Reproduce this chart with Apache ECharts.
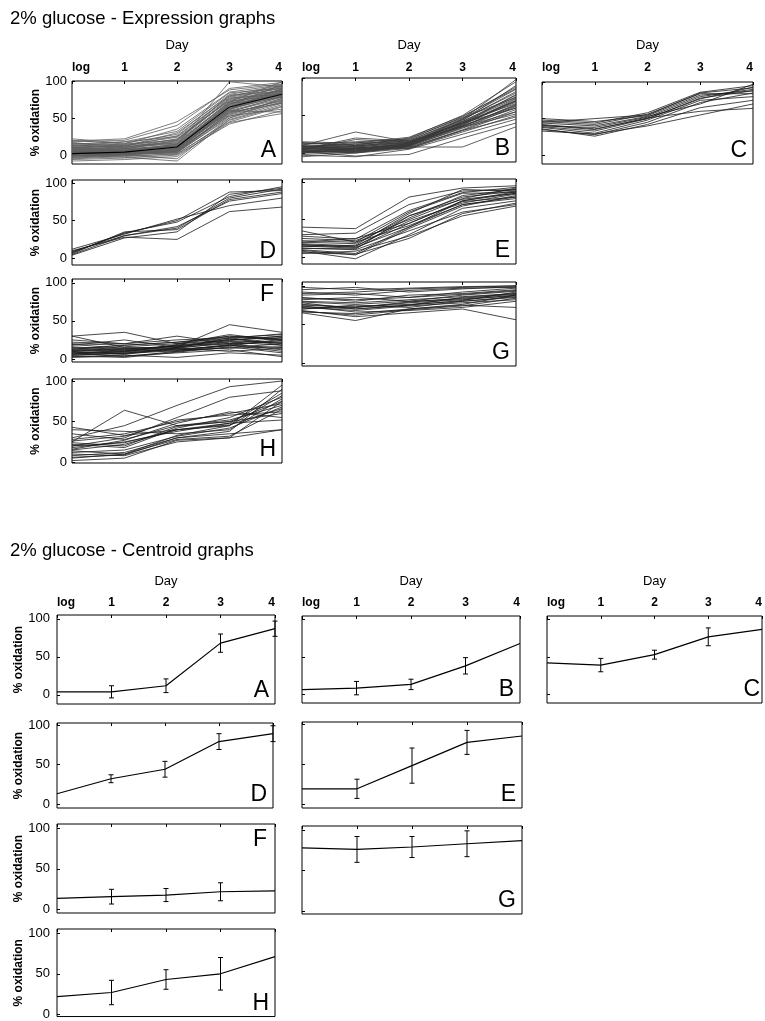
<!DOCTYPE html>
<html><head><meta charset="utf-8">
<script src="https://cdn.jsdelivr.net/npm/echarts@6/dist/echarts.min.js"></script>
<style>html,body{margin:0;padding:0;background:#fff}#c{width:765px;height:1021px}</style>
</head><body><div id="c"></div>
<script>
// ---------- DATA ----------
const days = ['log', '1', '2', '3', '4'];
const yTickValues = [0, 50, 100];
const titleExpr = '2% glucose - Expression graphs';
const titleCent = '2% glucose - Centroid graphs';
const dayName = 'Day';
const yName = '% oxidation';

// Expression profiles (each row: log, day1, day2, day3, day4)
const exprA = [
 [2,3,8,62,80],[5,6,12,70,85],[0,1,5,55,75],[10,8,20,75,88],[-3,0,4,50,70],
 [15,12,30,80,92],[8,5,15,68,84],[3,2,6,60,78],[20,15,35,85,95],[-5,-2,2,45,65],
 [6,10,18,72,86],[1,4,9,58,79],[12,18,25,78,90],[4,2,7,64,82],[-2,1,3,52,72],
 [9,7,14,66,83],[18,20,40,90,98],[0,-3,-8,48,68],[7,9,11,63,81],[14,10,22,74,87],
 [2,5,10,69,88],[-6,-4,0,42,60],[11,13,16,71,89],[5,3,8,59,76],[22,16,28,82,94],
 [3,6,13,67,84],[-1,0,6,56,74],[8,11,19,76,91],[16,14,24,73,80],[1,2,4,54,71],
 [6,4,9,61,85],[10,12,26,79,93],[-4,-1,1,47,66],[13,9,17,70,78],[4,7,12,65,87],
 [0,2,5,57,73],[19,22,45,88,96],[7,5,10,62,90],[2,0,-5,50,77],[9,13,21,77,82],
 [5,8,14,99,92],[15,18,32,84,90],[-3,1,7,53,62],[3,4,9,60,58],[11,6,12,68,95],
 [-8,-6,-2,44,56],[17,11,15,72,99],[6,1,3,58,70],[12,15,20,81,86],[-1,3,6,63,79]
];
const exprAMean = [2,4,11,65,82];
const exprB = [
 [5,6,12,40,70],[2,3,10,35,65],[8,10,14,45,80],[0,2,8,30,55],[12,15,18,48,88],
 [4,5,11,38,68],[-3,-5,5,25,45],[6,8,13,42,75],[10,28,15,36,60],[3,0,9,33,62],
 [7,12,16,46,85],[1,4,10,37,72],[14,10,20,50,95],[5,7,6,28,50],[9,6,12,41,66],
 [-2,1,7,31,58],[4,18,14,39,78],[11,9,17,44,82],[2,-4,-2,20,40],[6,3,11,36,64],
 [8,14,13,43,90],[0,5,9,34,52],[13,11,19,47,74],[3,2,10,38,70],[5,20,16,40,60],
 [7,4,8,8,35],[1,6,12,45,98],[10,8,14,35,55],[4,1,10,42,77],[15,13,21,49,86],
 [-5,0,6,30,48],[6,9,15,39,69],[2,7,11,36,63],[9,5,13,41,73]
];
const exprC = [
 [40,38,52,80,90],[45,50,55,85,92],[35,28,45,72,85],[42,36,50,78,88],[48,44,58,86,95],
 [38,30,48,75,80],[44,40,53,70,97],[36,26,42,65,75],[50,46,54,82,88],[41,35,51,60,64],
 [39,33,50,77,93],[46,42,56,84,84],[33,29,40,55,70]
];
const exprD = [
 [5,30,40,80,92],[8,33,50,88,90],[10,28,25,62,68],[6,35,38,78,88],
 [12,32,52,70,80],[4,27,35,85,93],[9,30,42,76,86],[7,34,48,82,95]
];
const exprE = [
 [15,12,45,75,85],[40,38,80,92,95],[30,32,70,88,90],[10,5,40,70,80],[20,18,55,80,88],
 [25,22,50,78,92],[8,-2,30,65,75],[18,15,48,72,84],[12,10,35,60,70],[22,20,60,85,86],
 [5,8,28,55,68],[16,14,52,82,90],[35,20,42,70,78],[14,16,58,90,88],[9,3,38,68,82],
 [20,25,45,74,80],[12,11,55,77,85],[28,24,62,86,93],[6,4,25,58,72],[17,13,40,75,87]
];
const exprF = [
 [10,12,15,20,22],[30,35,20,25,30],[5,8,12,18,15],[15,10,18,25,28],[8,3,10,15,20],
 [20,18,22,30,25],[12,14,16,45,35],[3,5,2,8,5],[18,25,15,28,32],[10,6,14,22,18],
 [25,20,30,20,12],[7,9,13,17,26],[14,16,20,32,24],[2,4,8,12,3],[11,13,17,24,30],
 [16,12,10,18,10],[9,7,15,26,20],[30,15,12,14,16],[6,10,18,20,28],[13,18,22,27,33],
 [4,2,9,16,8],[19,14,16,23,22],[8,11,14,10,14],[12,9,19,30,26],[22,20,25,28,18],
 [5,7,11,19,24]
];
const exprG = [
 [75,72,78,82,88],[95,98,92,96,99],[65,55,70,75,72],[85,80,88,90,95],[70,75,72,80,85],
 [90,92,96,98,100],[78,70,75,85,90],[68,60,65,70,56],[82,85,80,88,93],[72,68,74,78,82],
 [88,90,85,92,97],[66,64,70,76,88],[80,78,82,86,90],[74,66,68,72,80],[92,88,94,97,98],
 [70,73,76,80,86],[98,95,97,99,100],[76,72,79,84,89],[84,82,85,89,94],[67,62,69,74,84],
 [79,76,80,83,87],[73,70,75,81,92]
];
const exprH = [
 [30,45,70,93,100],[43,33,40,48,52],[25,64,45,50,60],[10,8,25,30,75],[20,30,55,80,88],
 [5,10,28,32,65],[15,22,40,45,95],[28,35,50,60,72],[8,12,30,35,40],[22,18,42,55,80],
 [2,5,27,30,40],[35,28,45,52,70],[18,25,38,48,85],[12,15,32,42,68],[26,32,52,58,62],
 [6,9,30,38,90],[24,20,44,50,75],[16,27,48,62,55],[40,38,35,40,78],[14,10,33,45,82],
 [20,24,40,46,66]
];

// Centroids and error (+/-)
const centA = [4,4,12,68,87];  const errA = [0,8,9,12,10];
const centB = [6,8,13,38,68];  const errB = [0,9,7,11,0];
const centC = [42,39,53,77,87]; const errC = [0,9,6,12,0];
const centD = [13,32,44,79,89]; const errD = [0,5,10,10,10];
const centE = [19,19,48,77,85]; const errE = [0,12,22,15,0];
const centF = [14,16,18,22,23]; const errF = [0,9,8,11,0];
const centG = [78,76,79,83,87]; const errG = [0,16,13,16,0];
const centH = [22,27,43,50,71]; const errH = [0,15,12,20,0];

// ---------- LAYOUT ----------
const FONT = "'Liberation Sans', Arial, Helvetica, sans-serif";
const exprPanels = [
 {id:'A', lines:exprA, mean:exprAMean, color:'#5e5e5e', l:72, t:81, w:210, h:83, min:-12, max:100, xl:true, yl:true, dayGap:29.5, xm:7, lt:'b'},
 {id:'B', lines:exprB, color:'#383838', l:302, t:78, w:214, h:84, min:-12, max:100, xl:true, yl:false, dayGap:26.5, xm:4, lt:'b'},
 {id:'C', lines:exprC, color:'#1a1a1a', l:542, t:82, w:211, h:82, min:-12, max:100, xl:true, yl:false, dayGap:30.5, xm:8, lt:'b'},
 {id:'D', lines:exprD, color:'#1a1a1a', l:72, t:180, w:210, h:85, min:-9, max:104, xl:false, yl:true, lt:'b'},
 {id:'E', lines:exprE, color:'#1a1a1a', l:302, t:179, w:214, h:85, min:-9, max:104, xl:false, yl:false, lt:'b'},
 {id:'F', lines:exprF, color:'#1a1a1a', l:72, t:279, w:210, h:83, min:-4, max:105, xl:false, yl:true, lt:'t'},
 {id:'G', lines:exprG, color:'#1a1a1a', l:302, t:282, w:214, h:84, min:-4, max:105, xl:false, yl:false, lt:'b'},
 {id:'H', lines:exprH, color:'#1a1a1a', l:72, t:379, w:210, h:84, min:-1, max:102.5, xl:false, yl:true, lt:'b'}
];
const centPanels = [
 {id:'A', c:centA, e:errA, l:57, t:615, w:218, h:89, min:-12, max:105, xl:true, yl:true, dayGap:27, xm:6, lt:'b'},
 {id:'B', c:centB, e:errB, l:302, t:616, w:218, h:87, min:-12, max:105, xl:true, yl:false, dayGap:28, xm:7, lt:'b'},
 {id:'C', c:centC, e:errC, l:547, t:616, w:219, h:87, min:-12, max:105, xl:true, yl:false, dayGap:28, xm:7, lt:'b'},
 {id:'D', c:centD, e:errD, l:57, t:723, w:216, h:85, min:-5, max:102.5, xl:false, yl:true, lt:'b'},
 {id:'E', c:centE, e:errE, l:302, t:722, w:220, h:86, min:-5, max:102.5, xl:false, yl:false, lt:'b'},
 {id:'F', c:centF, e:errF, l:57, t:824, w:218, h:89, min:-4, max:105, xl:false, yl:true, lt:'t'},
 {id:'G', c:centG, e:errG, l:302, t:826, w:220, h:88, min:-4, max:105, xl:false, yl:false, lt:'b'},
 {id:'H', c:centH, e:errH, l:57, t:929, w:218, h:88, min:-2.5, max:105, xl:false, yl:true, lt:'b'}
];

const grids = [], xAxes = [], yAxes = [], series = [], graphics = [];

function addAxes(p, yMargin, yNameGap) {
  const i = grids.length;
  grids.push({left:p.l, top:p.t, width:p.w, height:p.h, show:true, borderColor:'#000', borderWidth:1, backgroundColor:'transparent'});
  xAxes.push({
    gridIndex:i, type:'category', data:days, boundaryGap:false, position:'top',
    axisLine:{show:false, onZero:false},
    axisTick:{show:true, inside:true, length:3, lineStyle:{color:'#000', width:1}},
    axisLabel:{show:p.xl, margin:p.xm || 6, fontSize:12, fontWeight:'bold', color:'#000', fontFamily:FONT,
               alignMinLabel:'left', alignMaxLabel:'right', interval:0},
    splitLine:{show:false},
    name: p.xl ? dayName : '', nameLocation:'middle', nameGap: p.dayGap || 0,
    nameTextStyle:{fontSize:13, color:'#000', fontFamily:FONT}
  });
  yAxes.push({
    gridIndex:i, type:'value', min:p.min, max:p.max,
    axisLine:{show:false, onZero:false},
    axisTick:{show:true, inside:true, length:3, customValues:yTickValues, lineStyle:{color:'#000'}},
    axisLabel:{show:p.yl, customValues:yTickValues, margin:yMargin, fontSize:13, color:'#000', fontFamily:FONT},
    splitLine:{show:false},
    name: p.yl ? yName : '', nameLocation:'middle', nameRotate:90, nameGap:yNameGap,
    nameTextStyle:{fontSize:12, fontWeight:'bold', color:'#000', fontFamily:FONT}
  });
  // panel letter
  const fs = 23;
  if (p.lt === 't') {
    graphics.push({type:'text', x:p.l + p.w - 8, y:p.t + 4, silent:true,
      style:{text:p.id, fill:'#000', font: fs + 'px ' + FONT, textAlign:'right', textVerticalAlign:'top'}});
  } else {
    graphics.push({type:'text', x:p.l + p.w - 6, y:p.t + p.h - 2, silent:true,
      style:{text:p.id, fill:'#000', font: fs + 'px ' + FONT, textAlign:'right', textVerticalAlign:'bottom'}});
  }
  return i;
}

exprPanels.forEach(p => {
  const i = addAxes(p, 5, 29);
  p.lines.forEach(row => {
    series.push({type:'line', xAxisIndex:i, yAxisIndex:i, data:row, symbol:'none', silent:true,
      lineStyle:{color:p.color, width:0.8}, animation:false});
  });
  if (p.mean) {
    series.push({type:'line', xAxisIndex:i, yAxisIndex:i, data:p.mean, symbol:'none', silent:true,
      lineStyle:{color:'#000', width:1.1}, animation:false, z:5});
  }
});

function errRender(params, api) {
  const x = api.value(0);
  const lo = api.coord([x, api.value(1)]);
  const hi = api.coord([x, api.value(2)]);
  const cap = 2.5;
  const st = {stroke:'#000', lineWidth:1};
  return {type:'group', children:[
    {type:'line', shape:{x1:lo[0], y1:lo[1], x2:hi[0], y2:hi[1]}, style:st},
    {type:'line', shape:{x1:lo[0]-cap, y1:lo[1], x2:lo[0]+cap, y2:lo[1]}, style:st},
    {type:'line', shape:{x1:hi[0]-cap, y1:hi[1], x2:hi[0]+cap, y2:hi[1]}, style:st}
  ]};
}

centPanels.forEach(p => {
  const i = addAxes(p, 7, 32);
  series.push({type:'line', xAxisIndex:i, yAxisIndex:i, data:p.c, symbol:'none', silent:true,
    lineStyle:{color:'#000', width:1.2}, animation:false});
  const eb = days.map((d, k) => [k, p.c[k] - p.e[k], p.c[k] + p.e[k], p.e[k]]).filter(r => r[3] > 0);
  series.push({type:'custom', xAxisIndex:i, yAxisIndex:i, data:eb, renderItem:errRender,
    encode:{x:0, y:[1,2]}, silent:true, animation:false, clip:false});
});

const chart = echarts.init(document.getElementById('c'), null, {renderer:'canvas'});
chart.setOption({
  backgroundColor:'#fff',
  animation:false,
  title:[
    {text:titleExpr, left:10, top:9, padding:0, textStyle:{fontSize:18.5, fontWeight:'normal', color:'#000', fontFamily:FONT}},
    {text:titleCent, left:10, top:541, padding:0, textStyle:{fontSize:18.5, fontWeight:'normal', color:'#000', fontFamily:FONT}}
  ],
  grid:grids, xAxis:xAxes, yAxis:yAxes, series:series, graphic:graphics
});
</script>
</body></html>
